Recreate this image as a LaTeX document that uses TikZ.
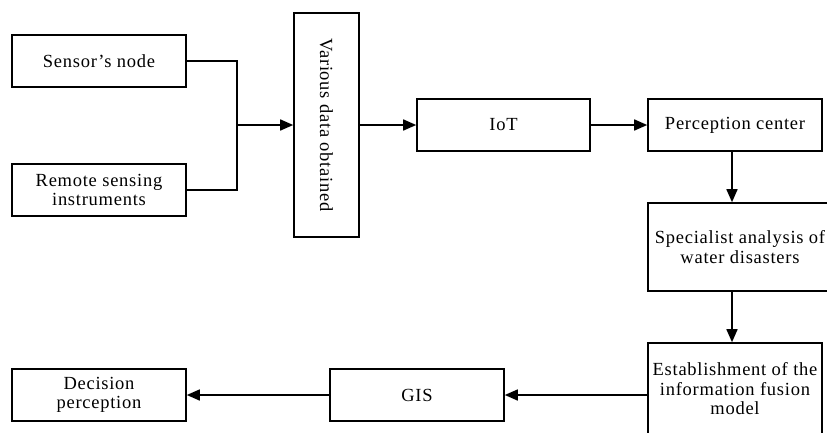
\documentclass[tikz,border=0pt]{standalone}
\usepackage{fontspec}
\setmainfont{Liberation Serif}[LetterSpace=4]
\usetikzlibrary{arrows.meta,calc}
\begin{document}
\begin{tikzpicture}[x=1pt,y=-1pt,
  box/.style={draw,line width=1.6pt,rectangle,inner sep=0pt,align=center,
    font=\fontsize{18.5}{19.5}\selectfont},
  arr/.style={line width=1.6pt,-{Triangle[length=13pt,width=11pt]}},
  ln/.style={line width=1.6pt}]
\useasboundingbox (0,0) rectangle (827,432);
\node[box,minimum width=174pt,minimum height=52pt] (sensor) at (99,61) {Sensor’s node};
\node[box,minimum width=174pt,minimum height=52pt] (remote) at (99,190) {Remote sensing\\instruments};
\node[box,minimum width=65pt,minimum height=224pt] (various) at (326.5,125) {};
\node[rotate=-90,font=\fontsize{18.5}{19.5}\selectfont] (vlabel) at (various.center) {Various data obtained};
\node[box,minimum width=173pt,minimum height=52pt] (iot) at (503.5,125) {IoT};
\node[box,minimum width=174pt,minimum height=52pt] (perc) at (735,125) {Perception center};
\node[box,minimum width=184pt,minimum height=88pt] (spec) at (740,247) {Specialist analysis of\\water disasters};
\node[box,minimum width=174pt,minimum height=92pt] (est) at (735,389) {Establishment of the\\information fusion\\model};
\node[box,minimum width=174pt,minimum height=52pt] (gis) at (417,395) {GIS};
\node[box,minimum width=174pt,minimum height=52pt] (dec) at (99,395) {Decision\\perception};
\coordinate (j) at (237,125);
\draw[ln] (sensor.east) -| (j) |- (remote.east);
\draw[arr] (j) -- (various.west);
\draw[arr] (various.east) -- (iot.west);
\draw[arr] (iot.east) -- (perc.west);
\draw[arr] ([xshift=-3pt]perc.south) -- ([xshift=-3pt]perc.south |- spec.north);
\draw[arr] ([xshift=-3pt]est.north |- spec.south) -- ([xshift=-3pt]est.north);
\draw[arr] (est.west |- gis.east) -- (gis.east);
\draw[arr] (gis.west) -- (dec.east);
\end{tikzpicture}
\end{document}
